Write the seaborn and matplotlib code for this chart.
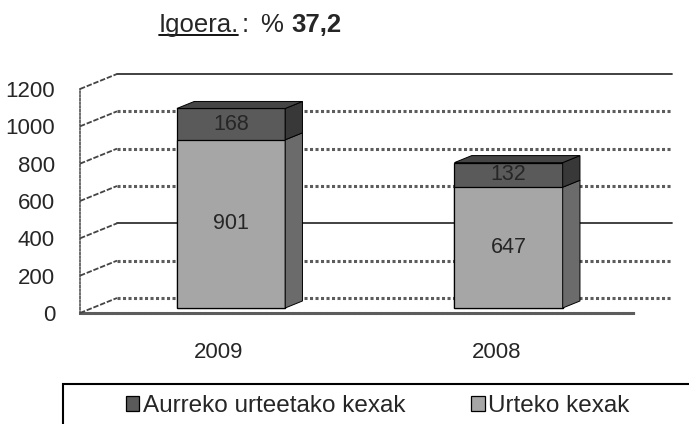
import numpy as np
import matplotlib
matplotlib.use("Agg")
import matplotlib.pyplot as plt
import matplotlib.transforms as mtrans
from matplotlib.patches import Polygon, Patch, Rectangle
from matplotlib.lines import Line2D
import seaborn as sns

# data
years = ["2009", "2008"]
urteko = [901, 647]          # Urteko kexak (bottom segment)
aurreko = [168, 132]         # Aurreko urteetako kexak (top segment)
series_names = ["Aurreko urteetako kexak", "Urteko kexak"]
y_ticks = [0, 200, 400, 600, 800, 1000, 1200]
increase = "37,2"

totals = [u + a for u, a in zip(urteko, aurreko)]

sns.set_style("white")
plt.rcParams["font.family"] = ["Liberation Sans", "DejaVu Sans"]

W, H = 689, 424
fig = plt.figure(figsize=(W / 100, H / 100), dpi=100)
# front plane of the pseudo 3d box, in pixels
x0, x1, yb, yt = 80, 635, 313, 89
ax = fig.add_axes([x0 / W, (H - yb) / H, (x1 - x0) / W, (yb - yt) / H])

light, dark = "#a6a6a6", "#5a5a5a"
light_side, dark_side, top_col = "#6b6b6b", "#383838", "#454545"
wavy = dict(color="#5c5c5c", lw=2.2, ls=(0, (1, 0.8)))
solid = dict(color="#333333", lw=1.3, ls="-")

BW = 0.39
sns.barplot(x=years, y=totals, color=dark, saturation=1, width=BW,
            edgecolor="black", linewidth=0.9, ax=ax, zorder=3)
sns.barplot(x=years, y=urteko, color=light, saturation=1, width=BW,
            edgecolor="black", linewidth=0.9, ax=ax, zorder=3)
ax.set_xlim(-0.5, 1.5)
ax.set_ylim(0, 1200)

DEPTH = np.array([37.0, 15.0])   # back wall offset in pixels
d_front, d_back = 1 / 3, 0.8     # bar depth fractions


def shifted(d):
    return ax.transData + mtrans.ScaledTranslation(
        d * DEPTH[0] / 100, d * DEPTH[1] / 100, fig.dpi_scale_trans)


def px(x, y, d):
    return ax.transData.transform((x, y)) + d * DEPTH


front_t = shifted(d_front)
for p in ax.patches:
    p.set_transform(front_t)
    p.set_clip_on(False)

# side and top faces
for i in range(len(years)):
    xr = i + BW / 2
    xl = i - BW / 2
    segs = [(0, urteko[i], light_side), (urteko[i], totals[i], dark_side)]
    for lo, hi, c in segs:
        pts = [px(xr, lo, d_front), px(xr, lo, d_back),
               px(xr, hi, d_back), px(xr, hi, d_front)]
        fig.patches.append(Polygon(pts, closed=True, transform=None,
                                   facecolor=c, edgecolor="black", lw=0.7,
                                   zorder=3))
    top = [px(xl, totals[i], d_front), px(xr, totals[i], d_front),
           px(xr, totals[i], d_back), px(xl, totals[i], d_back)]
    fig.patches.append(Polygon(top, closed=True, transform=None,
                               facecolor=top_col, edgecolor="black", lw=0.7,
                               zorder=3))
    # value labels
    ax.text(i, urteko[i] / 2, str(urteko[i]), transform=front_t,
            ha="center", va="center", fontsize=15.5, zorder=5)
    ax.text(i, urteko[i] + aurreko[i] / 2, str(aurreko[i]), transform=front_t,
            ha="center", va="center", fontsize=15.5, zorder=5)

# back wall gridlines and left wall lines
back_t = shifted(1.0)
for v in y_ticks:
    st = solid if v in (400, 1200) else wavy
    ax.plot([-0.5, 1.5], [v, v], transform=back_t, clip_on=False,
            zorder=1, **st)
    a, b = px(-0.5, v, 0), px(-0.5, v, 1)
    fig.lines.append(Line2D([a[0], b[0]], [a[1], b[1]], transform=None,
                            color="#444444", lw=1.3, ls=(0, (3, 1))))

# axes
for s in ["top", "right"]:
    ax.spines[s].set_visible(False)
ax.spines["left"].set_linestyle((0, (1, 1.2)))
ax.spines["left"].set_color("#555555")
ax.spines["left"].set_linewidth(1.2)
ax.spines["bottom"].set_color("#5c5c5c")
ax.spines["bottom"].set_linewidth(2.2)
ax.spines["bottom"].set_linestyle((0, (1, 0.8)))
ax.set_yticks(y_ticks)
ax.tick_params(axis="y", length=5, width=1, color="black", pad=13,
               labelsize=16, direction="out")
ax.set_xticks([0, 1])
ax.set_xticklabels(years)
ax.set_xticks([-0.5, 0.5, 1.5], minor=True)
ax.tick_params(axis="x", which="major", length=0, pad=21, labelsize=16)
ax.tick_params(axis="x", which="minor", length=5, width=1, color="black",
               direction="out")
ax.set_xlabel("")
ax.set_ylabel("")
ax.patch.set_alpha(0)

# title: underlined "Igoera." then ": % 37,2"
ty = (H - 32) / H
fig.text(159 / W, ty, "Igoera.", fontsize=18.5, va="baseline")
fig.lines.append(Line2D([159 / W, 238 / W], [(H - 34.5) / H] * 2,
                        transform=fig.transFigure, color="black", lw=1.3))
fig.text(242 / W, ty, ":", fontsize=18.5, va="baseline")
fig.text(260 / W, ty, "%", fontsize=18.5, va="baseline")
fig.text(291 / W, ty, increase, fontsize=18.5, fontweight="bold",
         va="baseline")

# legend box (cut by figure edge) and entries
fig.patches.append(Rectangle((63 / W, -0.2), 1.0, (H - 384) / H + 0.2,
                             transform=fig.transFigure, fill=False,
                             edgecolor="black", lw=1.5))
handles = [Patch(facecolor=dark, edgecolor="black", lw=0.9, label=series_names[0]),
           Patch(facecolor=light, edgecolor="black", lw=0.9, label=series_names[1])]
fig.legend(handles=handles, ncol=2, loc="center left",
           bbox_to_anchor=(126 / W, (H - 406) / H), frameon=False,
           fontsize=17.5, handlelength=0.55, handleheight=0.55,
           handletextpad=0.15, columnspacing=2.7, borderpad=0,
           borderaxespad=0)

fig.savefig("out.png", dpi=100)
